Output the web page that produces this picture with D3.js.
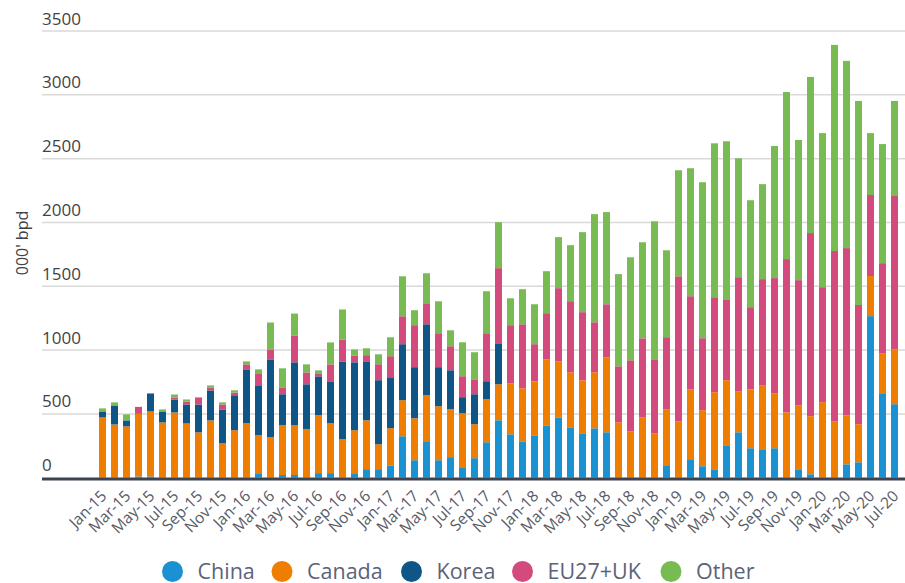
<!DOCTYPE html>
<html>
<head>
<meta charset="utf-8">
<script src="https://cdn.jsdelivr.net/npm/d3@7"></script>
<style>
  html, body { margin: 0; padding: 0; background: #fff; }
  svg { display: block; font-family: "Open Sans", "Noto Sans", sans-serif; }
</style>
</head>
<body>
<svg id="chart" width="905" height="583"></svg>
<script>
const months = ["Jan-15","Feb-15","Mar-15","Apr-15","May-15","Jun-15","Jul-15","Aug-15","Sep-15","Oct-15","Nov-15","Dec-15",
"Jan-16","Feb-16","Mar-16","Apr-16","May-16","Jun-16","Jul-16","Aug-16","Sep-16","Oct-16","Nov-16","Dec-16",
"Jan-17","Feb-17","Mar-17","Apr-17","May-17","Jun-17","Jul-17","Aug-17","Sep-17","Oct-17","Nov-17","Dec-17",
"Jan-18","Feb-18","Mar-18","Apr-18","May-18","Jun-18","Jul-18","Aug-18","Sep-18","Oct-18","Nov-18","Dec-18",
"Jan-19","Feb-19","Mar-19","Apr-19","May-19","Jun-19","Jul-19","Aug-19","Sep-19","Oct-19","Nov-19","Dec-19",
"Jan-20","Feb-20","Mar-20","Apr-20","May-20","Jun-20","Jul-20"];

const seriesNames = ["China","Canada","Korea","EU27+UK","Other"];
const seriesColors = ["#1a92d2","#ef7d00","#0f5586","#d24b7c","#79bb53"];

const china = [0,0,0,10,10,0,0,0,0,0,0,0,
0,29,0,21,21,0,36,36,0,29,67,67,
93,325,137,286,137,161,82,153,278,450,340,285,
332,410,473,395,348,387,356,0,0,0,0,98,
0,145,90,66,254,356,231,223,231,0,66,27,
0,0,105,121,1266,662,576];
const canada = [472,417,402,490,509,433,511,425,355,449,269,372,
427,304,318,390,390,380,454,391,302,343,383,195,
295,282,329,360,423,376,423,266,337,282,400,416,
423,518,439,431,415,439,588,434,364,474,348,439,
442,548,439,604,510,322,462,502,431,513,502,455,
592,443,384,298,314,314,431];
const korea = [47,149,47,0,141,86,102,149,219,235,266,274,
422,391,609,243,493,352,304,328,609,532,462,502,
399,439,400,556,306,305,126,235,141,321,0,0,
0,0,0,0,0,0,0,0,0,0,0,0,
0,0,0,0,0,0,0,0,0,0,0,0,
0,0,0,0,0,0,0];
const eu = [0,0,0,55,0,0,16,23,55,20,39,21,
39,94,78,54,211,93,24,133,172,54,48,125,
165,219,329,165,266,188,164,117,376,589,455,501,
291,361,573,557,534,392,415,439,556,618,580,564,
1136,729,564,744,634,893,643,831,902,1200,980,1435,
901,1333,1310,934,635,705,1200];
const other = [24,24,47,0,0,16,23,16,0,19,16,18,
23,31,211,149,171,63,23,172,235,47,54,78,
148,313,117,235,250,125,266,212,329,360,211,275,
313,329,400,439,627,847,722,722,807,753,1081,681,
831,1003,1222,1206,1238,932,838,744,1035,1309,1098,1223,
1207,1615,1467,1599,485,933,745];

const yTicks = [0,500,1000,1500,2000,2500,3000,3500];
const yTitle = "000' bpd";

const rows = months.map((m, i) => ({
  month: m,
  "China": china[i], "Canada": canada[i], "Korea": korea[i], "EU27+UK": eu[i], "Other": other[i]
}));

const svg = d3.select("#chart");
const plotLeft = 42, plotRight = 905;

const x = d3.scaleBand().domain(months).range([96.5, 900.5]).paddingInner(5/12).paddingOuter(5/24);
const y = d3.scaleLinear().domain([0, 3500]).range([477.7, 31]);

// gridlines + y labels
const grid = svg.append("g");
grid.selectAll("line").data(yTicks.filter(d => d > 0)).join("line")
  .attr("x1", plotLeft).attr("x2", plotRight)
  .attr("y1", d => y(d)).attr("y2", d => y(d))
  .attr("stroke", "#d9d9d9").attr("stroke-width", 1.5);
grid.selectAll("text").data(yTicks).join("text")
  .attr("x", plotLeft).attr("y", d => y(d) - 6.5)
  .attr("fill", "#3f4346").attr("font-size", 17)
  .text(d => d);

// y title
svg.append("text")
  .attr("transform", "translate(28,243) rotate(-90)")
  .attr("text-anchor", "middle")
  .attr("fill", "#3f4346").attr("font-size", 16)
  .text(yTitle);

// stacked bars
const stacked = d3.stack().keys(seriesNames)(rows);
const color = d3.scaleOrdinal().domain(seriesNames).range(seriesColors);
svg.append("g").selectAll("g").data(stacked).join("g")
  .attr("fill", d => color(d.key))
  .selectAll("rect").data(d => d).join("rect")
  .attr("x", d => x(d.data.month))
  .attr("width", x.bandwidth())
  .attr("y", d => y(d[1]))
  .attr("height", d => Math.max(0, y(d[0]) - y(d[1])));

// x axis line
svg.append("line")
  .attr("x1", plotLeft).attr("x2", plotRight)
  .attr("y1", 479).attr("y2", 479)
  .attr("stroke", "#3e4350").attr("stroke-width", 3);

// x labels (every other month)
svg.append("g").selectAll("text").data(months.filter((m, i) => i % 2 === 0)).join("text")
  .attr("transform", d => `translate(${x(d) + x.bandwidth()/2 + 5},${497}) rotate(-45)`)
  .attr("text-anchor", "end")
  .attr("fill", "#545b6b").attr("font-size", 15.5)
  .text(d => d);

// legend
const legendX = [162, 271.5, 401, 512, 660.5];
const legend = svg.append("g");
seriesNames.forEach((name, i) => {
  const lx = legendX[i];
  legend.append("circle").attr("cx", lx + 10.5).attr("cy", 571.5).attr("r", 10.5).attr("fill", seriesColors[i]);
  legend.append("text").attr("x", lx + 35.5).attr("y", 578.5)
    .attr("fill", "#5b6379").attr("font-size", 21.5).text(name);
});
</script>
</body>
</html>
